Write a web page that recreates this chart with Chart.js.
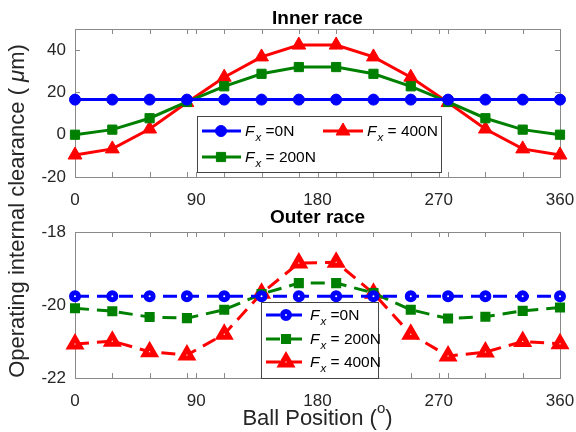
<!DOCTYPE html>
<html>
<head>
<meta charset="utf-8">
<script src="https://cdn.jsdelivr.net/npm/chart.js@4.4.0/dist/chart.umd.min.js"></script>
<style>
  html, body { margin: 0; padding: 0; background: #fff; }
  #wrap { position: relative; width: 576px; height: 432px; }
  #wrap canvas { position: absolute; left: 0; top: 0; }
</style>
</head>
<body>
<div id="wrap">
  <canvas id="innerChart" width="576" height="432"></canvas>
  <canvas id="outerChart" width="576" height="432"></canvas>
</div>
<script>
// Ball positions (deg) around the bearing
const ballPos = [0, 27.69, 55.38, 83.08, 110.77, 138.46, 166.15, 193.85, 221.54, 249.23, 276.92, 304.62, 332.31, 360];
const xTickLabels = [0, 90, 180, 270, 360];
const innerYTicks = [-20, 0, 20, 40];
const outerYTicks = [-22, -20, -18];

// Inner race operating clearance (um)
const innerF0 = [16.6, 16.6, 16.6, 16.6, 16.6, 16.6, 16.6, 16.6, 16.6, 16.6, 16.6, 16.6, 16.6, 16.6];
const innerF200 = [0, 2.4, 7.8, 15.5, 22.9, 28.8, 32, 32, 28.8, 22.9, 15.5, 7.8, 2.4, 0];
const innerF400 = [-9.6, -6.7, 2.7, 15.2, 27.2, 36.8, 42.4, 42.4, 36.8, 27.2, 15.2, 2.7, -6.7, -9.6];

// Outer race operating clearance (um)
const outerF0 = [-19.76, -19.76, -19.76, -19.76, -19.76, -19.76, -19.76, -19.76, -19.76, -19.76, -19.76, -19.76, -19.76, -19.76];
const outerF200 = [-20.09, -20.17, -20.33, -20.36, -20.13, -19.7, -19.4, -19.4, -19.67, -20.13, -20.37, -20.32, -20.16, -20.07];
const outerF400 = [-21.07, -20.99, -21.28, -21.37, -20.8, -19.68, -18.85, -18.83, -19.68, -20.8, -21.4, -21.29, -21.0, -21.06];

const seriesLabels = [' =0N', ' = 200N', ' = 400N'];

const FONT = '"Liberation Sans", Arial, sans-serif';
const TEXT = '#262626';
const BOX = '#8a8a8a';
const BLUE = '#0000ff', GREEN = '#008000', RED = '#ff0000';

Chart.defaults.font.family = FONT;
Chart.defaults.color = TEXT;

function toPoints(ys) {
  return ys.map((y, i) => ({ x: ballPos[i], y: y }));
}

// "F" with italic subscript x, followed by the load text
function drawFx(ctx, x, y, rest) {
  ctx.save();
  ctx.fillStyle = '#000';
  ctx.textBaseline = 'alphabetic';
  ctx.textAlign = 'left';
  ctx.font = 'italic 15.5px ' + FONT;
  ctx.fillText('F', x, y);
  x += ctx.measureText('F').width + 1;
  ctx.font = 'italic 11.5px ' + FONT;
  ctx.fillText('x', x, y + 5);
  x += ctx.measureText('x').width;
  ctx.font = '15.5px ' + FONT;
  ctx.fillText(rest, x, y);
  ctx.restore();
}

// Box, inward tick marks, title and legend for each panel
const panelPlugin = {
  id: 'panel',
  beforeDatasetsDraw(chart, args, opts) {
    const { ctx, chartArea: a, scales } = chart;
    ctx.save();
    ctx.strokeStyle = BOX;
    ctx.lineWidth = 1;
    ctx.strokeRect(a.left + 0.5, a.top + 0.5, a.right - a.left, a.bottom - a.top);
    ctx.beginPath();
    const xt = ballPos.concat([90, 180, 270]);
    xt.forEach(v => {
      const px = Math.round(scales.x.getPixelForValue(v)) + 0.5;
      ctx.moveTo(px, a.bottom); ctx.lineTo(px, a.bottom - 5);
      ctx.moveTo(px, a.top); ctx.lineTo(px, a.top + 5);
    });
    scales.y.ticks.forEach(t => {
      const py = Math.round(scales.y.getPixelForValue(t.value)) + 0.5;
      ctx.moveTo(a.left, py); ctx.lineTo(a.left + 5, py);
      ctx.moveTo(a.right, py); ctx.lineTo(a.right - 5, py);
    });
    ctx.stroke();

    ctx.fillStyle = '#000';
    ctx.font = 'bold 19px ' + FONT;
    ctx.textAlign = 'center';
    ctx.textBaseline = 'middle';
    ctx.fillText(opts.title, (a.left + a.right) / 2, opts.titleY);
    ctx.restore();
  },
  afterDraw(chart, args, opts) {
    const ctx = chart.ctx;
    const lg = opts.legend;
    ctx.save();
    ctx.fillStyle = '#fff';
    ctx.fillRect(lg.x, lg.y, lg.w, lg.h);
    ctx.strokeStyle = '#444';
    ctx.lineWidth = 1;
    ctx.strokeRect(lg.x + 0.5, lg.y + 0.5, lg.w, lg.h);
    lg.items.forEach(it => {
      const ds = chart.data.datasets[it.ds];
      ctx.save();
      ctx.strokeStyle = ds.borderColor;
      ctx.lineWidth = ds.borderWidth;
      ctx.setLineDash(ds.borderDash || []);
      ctx.beginPath();
      ctx.moveTo(it.x0, it.y);
      ctx.lineTo(it.x1, it.y);
      ctx.stroke();
      ctx.setLineDash([]);
      ctx.fillStyle = ds.pointBackgroundColor;
      ctx.strokeStyle = ds.pointBorderColor;
      ctx.lineWidth = ds.pointBorderWidth;
      Chart.helpers.drawPoint(ctx, {
        pointStyle: ds.pointStyle, radius: ds.pointRadius,
        borderWidth: ds.pointBorderWidth, rotation: 0
      }, it.mx, it.y);
      ctx.restore();
      drawFx(ctx, it.x1 + 4, it.y + 5, seriesLabels[it.ds]);
    });
    ctx.restore();
  }
};

// Shared y-axis title and x-axis title, drawn on the lower panel
const axisTitles = {
  id: 'axisTitles',
  afterDraw(chart) {
    const { ctx, chartArea: a } = chart;
    ctx.save();
    ctx.fillStyle = TEXT;
    ctx.textBaseline = 'alphabetic';
    ctx.textAlign = 'left';

    // y title, rotated
    const parts = [['Operating internal clearance ( ', '22px '], ['\u03bc', 'italic 22px '], ['m)', '22px ']];
    let total = 0;
    parts.forEach(p => { ctx.font = p[1] + FONT; total += ctx.measureText(p[0]).width; });
    ctx.translate(24, 211);
    ctx.rotate(-Math.PI / 2);
    let x = -total / 2;
    parts.forEach(p => {
      ctx.font = p[1] + FONT;
      ctx.fillText(p[0], x, 0);
      x += ctx.measureText(p[0]).width;
    });
    ctx.setTransform(1, 0, 0, 1, 0, 0);

    // x title with superscript degree mark
    ctx.font = '22px ' + FONT;
    const t1 = 'Ball Position (';
    const w1 = ctx.measureText(t1).width;
    ctx.font = '15px ' + FONT;
    const w2 = ctx.measureText('o').width;
    ctx.font = '22px ' + FONT;
    const w3 = ctx.measureText(')').width;
    let sx = (a.left + a.right) / 2 - (w1 + w2 + w3) / 2;
    const by = 425;
    ctx.fillText(t1, sx, by);
    sx += w1;
    ctx.font = '15px ' + FONT;
    ctx.fillText('o', sx, by - 12);
    sx += w2;
    ctx.font = '22px ' + FONT;
    ctx.fillText(')', sx, by);
    ctx.restore();
  }
};

function xScale() {
  return {
    type: 'linear', min: 0, max: 360,
    afterBuildTicks: s => { s.ticks = xTickLabels.map(v => ({ value: v })); },
    afterFit: s => { s.height = 36; s.paddingLeft = 0; s.paddingRight = 0; },
    grid: { display: false, drawTicks: false },
    border: { display: false },
    ticks: { padding: 13, color: TEXT, font: { size: 17 }, maxRotation: 0 }
  };
}

function yScale(min, max, tickVals) {
  return {
    min: min, max: max,
    afterBuildTicks: s => { s.ticks = tickVals.map(v => ({ value: v })); },
    afterFit: s => { s.width = 75; s.paddingTop = 0; s.paddingBottom = 0; },
    grid: { display: false, drawTicks: false },
    border: { display: false },
    ticks: { padding: 9, color: TEXT, font: { size: 17 } }
  };
}

function series(label, ys, color, style, radius, dashed) {
  return {
    label: label,
    data: toPoints(ys),
    borderColor: color,
    borderWidth: 3,
    borderDash: dashed ? [14, 8] : [],
    pointStyle: style,
    pointRadius: radius,
    pointBackgroundColor: dashed ? '#fff' : color,
    pointBorderColor: color,
    pointBorderWidth: dashed ? 5 : 1,
    clip: false,
    tension: 0
  };
}

new Chart(document.getElementById('innerChart'), {
  type: 'line',
  data: {
    datasets: [
      series('Fx =0N', innerF0, BLUE, 'circle', 5.5, false),
      series('Fx = 200N', innerF200, GREEN, 'rect', 6.5, false),
      series('Fx = 400N', innerF400, RED, 'triangle', 8, false)
    ]
  },
  options: {
    responsive: false,
    animation: false,
    layout: { padding: { left: 0, right: 16, top: 29, bottom: 219 } },
    scales: { x: xScale(), y: yScale(-20, 50, innerYTicks) },
    plugins: {
      legend: { display: false },
      tooltip: { enabled: false },
      panel: {
        title: 'Inner race', titleY: 19,
        legend: {
          x: 197, y: 116, w: 244, h: 56,
          items: [
            { ds: 0, x0: 202, x1: 241, mx: 221, y: 131 },
            { ds: 2, x0: 323, x1: 363, mx: 343, y: 131 },
            { ds: 1, x0: 202, x1: 241, mx: 221, y: 157 }
          ]
        }
      }
    }
  },
  plugins: [panelPlugin]
});

new Chart(document.getElementById('outerChart'), {
  type: 'line',
  data: {
    datasets: [
      series('Fx =0N', outerF0, BLUE, 'circle', 3.5, true),
      series('Fx = 200N', outerF200, GREEN, 'rect', 3.6, true),
      series('Fx = 400N', outerF400, RED, 'triangle', 6, true)
    ]
  },
  options: {
    responsive: false,
    animation: false,
    layout: { padding: { left: 0, right: 16, top: 232, bottom: 18 } },
    scales: { x: xScale(), y: yScale(-22, -18, outerYTicks) },
    plugins: {
      legend: { display: false },
      tooltip: { enabled: false },
      panel: {
        title: 'Outer race', titleY: 218,
        legend: {
          x: 261, y: 302, w: 117, h: 76,
          items: [
            { ds: 0, x0: 266, x1: 306, mx: 286, y: 315 },
            { ds: 1, x0: 266, x1: 306, mx: 286, y: 339 },
            { ds: 2, x0: 266, x1: 306, mx: 286, y: 362 }
          ]
        }
      }
    }
  },
  plugins: [panelPlugin, axisTitles]
});
</script>
</body>
</html>
